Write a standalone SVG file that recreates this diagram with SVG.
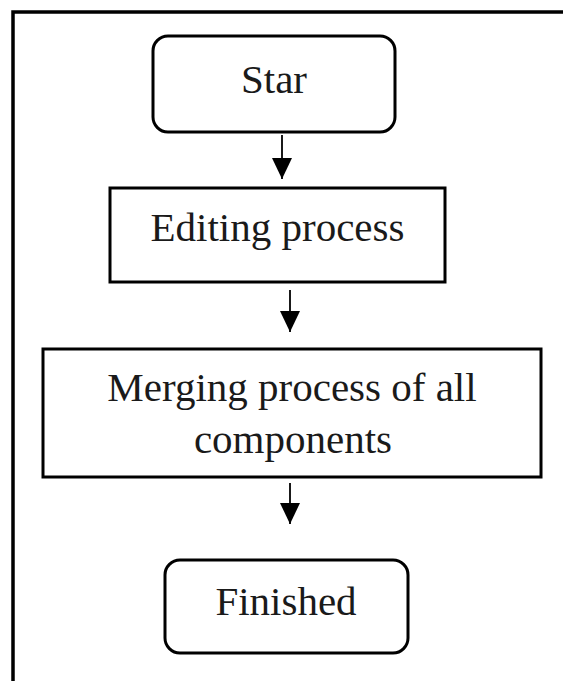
<svg xmlns="http://www.w3.org/2000/svg" width="563" height="681" viewBox="0 0 563 681">
  <style>
    .box { fill: #ffffff; stroke: #000000; stroke-width: 3; }
    .frame { fill: none; stroke: #000000; stroke-width: 3.5; }
    .lbl { font-family: "Liberation Serif", "Times New Roman", serif; font-size: 41px; fill: #1a1a1a; text-anchor: middle; }
    .conn { stroke: #000000; stroke-width: 1.8; fill: none; marker-end: url(#arrow); }
  </style>
  <defs>
    <marker id="arrow" viewBox="0 0 21 20" refX="21" refY="10" markerWidth="21" markerHeight="20" markerUnits="userSpaceOnUse" orient="auto">
      <path d="M0,0 L21,10 L0,20 Z" fill="#000000"/>
    </marker>
  </defs>
  <rect x="0" y="0" width="563" height="681" fill="#ffffff"/>
  <path class="frame" d="M13,684 V12 H566"/>

  <g id="node-start">
    <rect class="box" x="153" y="36" width="242" height="96" rx="15" ry="15"/>
    <text class="lbl" x="274" y="93">Star</text>
  </g>
  <g id="node-editing">
    <rect class="box" x="110" y="188" width="335" height="94"/>
    <text class="lbl" x="277.5" y="241">Editing process</text>
  </g>
  <g id="node-merging">
    <rect class="box" x="43" y="349" width="498" height="128"/>
    <text class="lbl" x="292" y="401">Merging process of all</text>
    <text class="lbl" x="293" y="453">components</text>
  </g>
  <g id="node-finished">
    <rect class="box" x="165" y="560" width="243" height="93" rx="15" ry="15"/>
    <text class="lbl" x="286" y="615">Finished</text>
  </g>

  <g id="connectors">
    <line class="conn" x1="282" y1="135" x2="282" y2="179"/>
    <line class="conn" x1="290" y1="290" x2="290" y2="332"/>
    <line class="conn" x1="290" y1="483" x2="290" y2="524"/>
  </g>
</svg>
